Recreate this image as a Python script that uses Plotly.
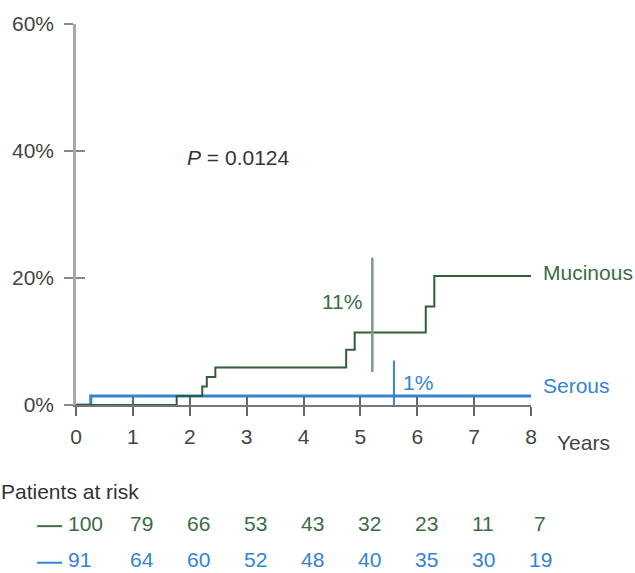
import plotly.graph_objects as go

# Cumulative incidence curves (step functions), percent vs years
mucinous_years = [0, 1.77, 2.22, 2.30, 2.45, 4.75, 4.90, 6.15, 6.30, 8.0]
mucinous_pct = [0, 1.4, 2.9, 4.4, 5.9, 8.7, 11.4, 15.5, 20.3, 20.3]
serous_years = [0, 0.26, 8.0]
serous_pct = [0, 1.4, 1.4]

# 5-year estimate bars
mucinous_bar_x = 5.21
mucinous_bar_range = [5.2, 23.2]
serous_bar_x = 5.59
serous_bar_range = [0, 7.0]

# Axis ticks
year_ticks = [0, 1, 2, 3, 4, 5, 6, 7, 8]
pct_ticks = [0, 20, 40, 60]
pct_labels = ["0%", "20%", "40%", "60%"]

# Patients at risk
risk_mucinous = [100, 79, 66, 53, 43, 32, 23, 11, 7]
risk_serous = [91, 64, 60, 52, 48, 40, 35, 30, 19]

GREEN = "#2f5f38"
GREEN_TXT = "#3b6c44"
GREEN_BAR = "#7c9c80"
BLUE = "#3384d2"
FONT = "Liberation Sans, Arial, Helvetica, sans-serif"
FS = 21
X_MAX = 8.0
Y_MAX = 60.0

fig = go.Figure()

fig.add_trace(go.Scatter(
    x=serous_years, y=serous_pct, mode="lines", line_shape="hv",
    line=dict(color=BLUE, width=3), cliponaxis=False, hoverinfo="skip"))
fig.add_trace(go.Scatter(
    x=mucinous_years, y=mucinous_pct, mode="lines", line_shape="hv",
    line=dict(color=GREEN, width=2), cliponaxis=False, hoverinfo="skip"))
fig.add_trace(go.Scatter(
    x=[mucinous_bar_x, mucinous_bar_x], y=mucinous_bar_range, mode="lines",
    line=dict(color=GREEN_BAR, width=2.5), cliponaxis=False, hoverinfo="skip"))
fig.add_trace(go.Scatter(
    x=[serous_bar_x, serous_bar_x], y=serous_bar_range, mode="lines",
    line=dict(color=BLUE, width=2), cliponaxis=False, hoverinfo="skip"))

annotations = []
shapes = []


def note(text, x, y, color, xanchor="left", y_is_paper=False, size=FS):
    """Place text; x given in years, y in percent (or paper fraction)."""
    annotations.append(dict(
        text=text, x=x / X_MAX, y=y if y_is_paper else y / Y_MAX,
        xref="paper", yref="paper", xanchor=xanchor,
        yanchor="middle", showarrow=False,
        font=dict(family=FONT, size=size, color=color)))


note("<i>P</i> = 0.0124", 1.91, 39.0, "#333333")
note("11%", 5.06, 16.3, GREEN_TXT, xanchor="right")
note("1%", 5.71, 3.6, BLUE)
note("Mucinous", 8.18, 20.8, GREEN_TXT)
note("Serous", 8.18, 3.0, BLUE)
note("Years", 8.43, -0.099, "#444444", y_is_paper=True)
note("Patients at risk", -1.36, -0.227, "#333333", y_is_paper=True)

# risk table rows: short coloured key line, then counts under each year
row_y = [-0.31, -0.406]
for rows, color, yy in [(risk_mucinous, GREEN_TXT, row_y[0]),
                        (risk_serous, BLUE, row_y[1])]:
    shapes.append(dict(
        type="line", xref="paper", yref="paper",
        x0=-0.683 / X_MAX, x1=-0.245 / X_MAX, y0=yy - 0.008, y1=yy - 0.008,
        line=dict(color=color, width=2)))
    for i, n in enumerate(rows):
        if i == 0:
            note(str(n), -0.17, yy, color, y_is_paper=True)
        else:
            note(str(n), year_ticks[i] + 0.16, yy, color, xanchor="center",
                 y_is_paper=True)

fig.update_layout(
    width=635, height=573,
    margin=dict(l=74, r=104, t=21, b=168),
    paper_bgcolor="white", plot_bgcolor="white",
    showlegend=False,
    font=dict(family=FONT, size=FS, color="#444444"),
    annotations=annotations,
    shapes=shapes,
    xaxis=dict(
        range=[0, X_MAX], tickvals=year_ticks, ticktext=[str(v) for v in year_ticks],
        showline=True, linecolor="#777777", linewidth=1.5,
        ticks="outside", ticklen=9, tickwidth=1.5, tickcolor="#666666",
        showgrid=False, zeroline=False, ticklabelstandoff=3,
        tickfont=dict(family=FONT, size=FS, color="#444444")),
    xaxis2=dict(
        range=[0, X_MAX], tickvals=year_ticks, overlaying="x", anchor="y",
        side="bottom", showticklabels=False, showline=False,
        ticks="inside", ticklen=8, tickwidth=1.5, tickcolor="#666666",
        showgrid=False, zeroline=False),
    yaxis=dict(
        range=[0, Y_MAX], tickvals=pct_ticks, ticktext=pct_labels,
        showline=True, linecolor="#aaaaaa", linewidth=2.5,
        ticks="outside", ticklen=9, tickwidth=1.5, tickcolor="#888888",
        showgrid=False, zeroline=False, ticklabelstandoff=6,
        tickfont=dict(family=FONT, size=FS, color="#444444")),
    yaxis2=dict(
        range=[0, Y_MAX], tickvals=pct_ticks, overlaying="y", anchor="x",
        side="left", showticklabels=False, showline=False,
        ticks="inside", ticklen=9, tickwidth=1.5, tickcolor="#888888",
        showgrid=False, zeroline=False),
)

# invisible trace so the overlay axes carrying the inner tick halves are drawn
fig.add_trace(go.Scatter(x=[None], y=[None], xaxis="x2", yaxis="y2",
                         hoverinfo="skip", showlegend=False))

fig.write_html("out.html")
